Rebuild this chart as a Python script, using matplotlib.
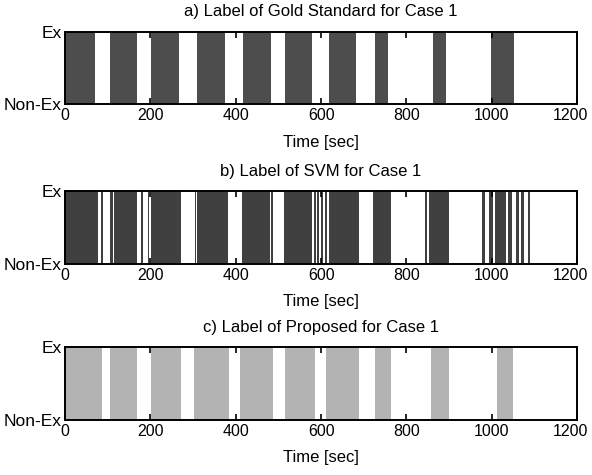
import numpy as np
import matplotlib; matplotlib.use("Agg"); import matplotlib.pyplot as plt
from matplotlib.transforms import ScaledTranslation

plt.rcParams["font.family"] = ["Liberation Sans", "DejaVu Sans"]

# label intervals (start, end) in seconds where the class is "Ex"
GOLD_START = [0, 106, 201, 309, 416, 515, 618, 726, 863, 997]
GOLD_END = [70, 170, 267, 375, 482, 579, 682, 757, 893, 1052]

SVM_START = [0, 85, 106, 116, 178, 194, 202, 305, 309, 414, 418, 483, 513, 583,
             591, 600, 609, 619, 722, 843, 852, 977, 994, 1007, 1038, 1056, 1068, 1085]
SVM_END = [77, 89, 113, 170, 182, 198, 273, 308, 383, 417, 481, 487, 579, 587,
           595, 604, 613, 689, 763, 849, 900, 983, 1003, 1033, 1048, 1064, 1076, 1089]

PROP_START = [0, 106, 202, 302, 411, 515, 611, 726, 857, 1011]
PROP_END = [88, 168, 273, 384, 487, 586, 689, 764, 899, 1049]

TITLES = ["a) Label of Gold Standard for Case 1",
          "b) Label of SVM for Case 1",
          "c) Label of Proposed for Case 1"]
XTICKS = [0, 200, 400, 600, 800, 1000, 1200]
YLABELS = ["Non-Ex", "Ex"]

panels = [(GOLD_START, GOLD_END, "#4d4d4d"),
          (SVM_START, SVM_END, "#404040"),
          (PROP_START, PROP_END, "#b3b3b3")]
bottoms = [0.7804, 0.4448, 0.1158]

fig = plt.figure(figsize=(5.92, 4.75), dpi=100)
for (st, en, col), title, b in zip(panels, TITLES, bottoms):
    a = fig.add_axes([0.1096, b, 0.8655, 0.1528])
    segs = [(s, e - s) for s, e in zip(st, en)]
    a.broken_barh(segs, (0, 1), facecolors=col, edgecolors="none")
    a.set_xlim(0, 1200); a.set_ylim(0, 1)
    a.set_xticks(XTICKS)
    a.set_yticks([0, 1]); a.set_yticklabels(YLABELS)
    a.tick_params(axis="x", direction="in", top=True, length=4, width=1.2,
                  labelsize=11.5, pad=3)
    a.tick_params(axis="y", length=0, labelsize=12.5, pad=2)
    for sp in a.spines.values():
        sp.set_linewidth(1.4)
    a.set_title(title, fontsize=12, pad=11)
    a.set_xlabel("Time [sec]", fontsize=12, labelpad=8)
    # keep the last tick label inside the figure
    last = a.get_xticklabels()[-1]
    last.set_transform(last.get_transform() + ScaledTranslation(-7/100, 0, fig.dpi_scale_trans))

fig.savefig("out.png", dpi=100)
